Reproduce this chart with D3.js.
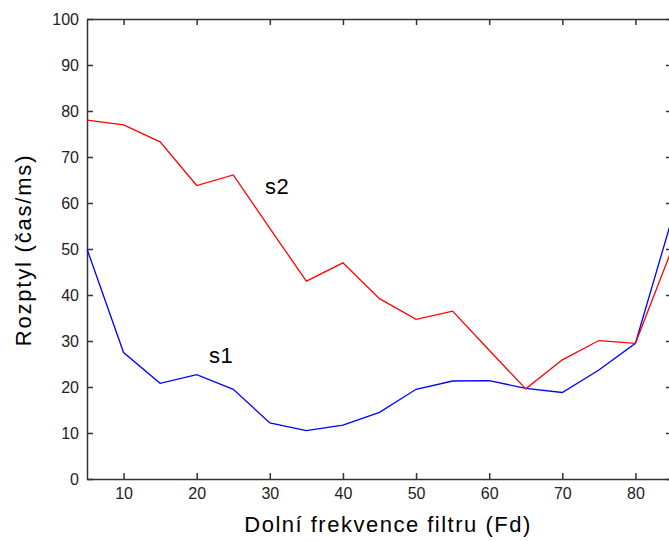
<!DOCTYPE html>
<html>
<head>
<meta charset="utf-8">
<script src="https://cdn.jsdelivr.net/npm/d3@7"></script>
<style>
  body { margin: 0; background: #fff; }
  text { font-family: "Liberation Sans", Arial, sans-serif; }
</style>
</head>
<body>
<svg id="chart" width="669" height="541"></svg>
<script>
const freqs = [5, 10, 15, 20, 25, 30, 35, 40, 45, 50, 55, 60, 65, 70, 75, 80, 85]
const s1 = [50.0, 27.5, 20.8, 22.7, 19.5, 12.2, 10.5, 11.7, 14.5, 19.5, 21.3, 21.4, 19.7, 18.8, 23.7, 29.5, 56.6]
const s2 = [78.0, 77.0, 73.3, 63.8, 66.1, 54.5, 43.0, 47.0, 39.2, 34.7, 36.5, 28.0, 19.6, 25.9, 30.1, 29.5, 50.0]
const xTicks = [10, 20, 30, 40, 50, 60, 70, 80]
const yTicks = [0, 10, 20, 30, 40, 50, 60, 70, 80, 90, 100]

const width = 669
const height = 541
// right edge of the box lies just outside the window, as in the picture
const margin = {top: 19, right: -3, bottom: 62, left: 87}

const svg = d3.select("#chart")

const x = d3.scaleLinear()
    .domain([5, 85])
    .range([margin.left, width - margin.right])

const y = d3.scaleLinear()
    .domain([0, 100])
    .range([height - margin.bottom, margin.top])

const axisColor = "#333"
const tickLen = 6

const bottomAxis = svg.append("g")
    .attr("transform", `translate(0, ${y(0)})`)
    .call(d3.axisBottom(x).tickValues(xTicks).tickSizeInner(-tickLen).tickSizeOuter(0).tickPadding(9))
const topAxis = svg.append("g")
    .attr("transform", `translate(0, ${y(100)})`)
    .call(d3.axisTop(x).tickValues(xTicks).tickSizeInner(-tickLen).tickSizeOuter(0).tickFormat(""))
const leftAxis = svg.append("g")
    .attr("transform", `translate(${x(5)}, 0)`)
    .call(d3.axisLeft(y).tickValues(yTicks).tickSizeInner(-tickLen).tickSizeOuter(0).tickPadding(8))
const rightAxis = svg.append("g")
    .attr("transform", `translate(${x(85)}, 0)`)
    .call(d3.axisRight(y).tickValues(yTicks).tickSizeInner(-tickLen).tickSizeOuter(0).tickFormat(""))

for (const g of [bottomAxis, topAxis, leftAxis, rightAxis]) {
    g.selectAll("path, line").attr("stroke", axisColor).attr("stroke-width", 1.5)
    g.selectAll("text")
        .attr("fill", "#222")
        .style("font-size", "16px")
        .style("font-family", "'Liberation Sans', Arial, sans-serif")
}

const line = d3.line()
    .x((d, i) => x(freqs[i]))
    .y(d => y(d))

svg.append("defs").append("clipPath").attr("id", "plot")
    .append("rect")
    .attr("x", x(5)).attr("y", y(100))
    .attr("width", x(85) - x(5)).attr("height", y(0) - y(100))

const series = [
    {values: s1, color: "#0000ff"},
    {values: s2, color: "#ff0000"}
]

svg.append("g")
    .attr("clip-path", "url(#plot)")
    .selectAll("path")
    .data(series)
    .join("path")
    .attr("d", d => line(d.values))
    .attr("fill", "none")
    .attr("stroke", d => d.color)
    .attr("stroke-width", 1.3)

// series labels
svg.append("text")
    .attr("x", 209).attr("y", 363)
    .style("font-size", "22px")
    .style("letter-spacing", "0.5px")
    .text("s1")
svg.append("text")
    .attr("x", 265).attr("y", 194)
    .style("font-size", "22px")
    .style("letter-spacing", "0.5px")
    .text("s2")

svg.append("text")
    .attr("x", 388).attr("y", 532)
    .attr("text-anchor", "middle")
    .style("font-size", "22px")
    .style("letter-spacing", "1.5px")
    .text("Dolní frekvence filtru (Fd)")

svg.append("text")
    .attr("transform", `translate(31, 250) rotate(-90)`)
    .attr("text-anchor", "middle")
    .style("font-size", "22px")
    .style("letter-spacing", "1.8px")
    .text("Rozptyl (čas/ms)")
</script>
</body>
</html>
